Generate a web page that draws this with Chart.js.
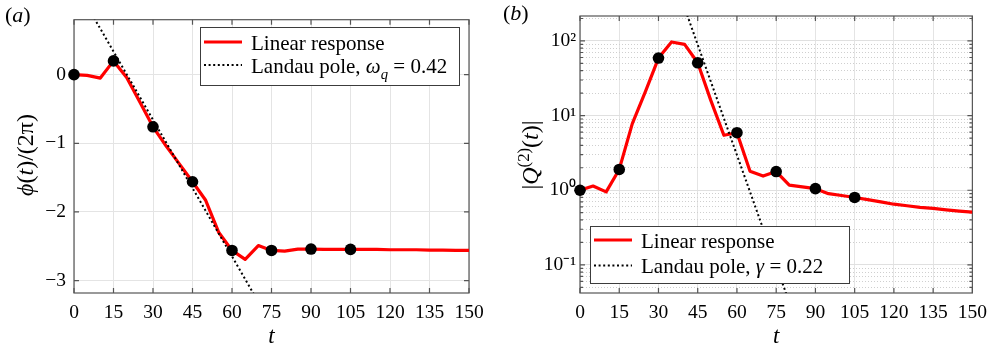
<!DOCTYPE html>
<html>
<head>
<meta charset="utf-8">
<script src="https://cdn.jsdelivr.net/npm/chart.js@4.4.1/dist/chart.umd.min.js"></script>
<style>
  body { margin: 0; background: #fff; }
  .panel { position: absolute; top: 0; height: 351px; }
  #pa { left: 0; width: 495px; }
  #pb { left: 495px; width: 500px; }
</style>
</head>
<body>
<div class="panel" id="pa"><canvas id="chartA"></canvas></div>
<div class="panel" id="pb"><canvas id="chartB"></canvas></div>
<script>
// time samples of the linear response
const tValues = [0, 5, 10, 15, 20, 25, 30, 35, 40, 45, 50, 55, 60, 65, 70, 75, 80, 85, 90, 95,
                 100, 105, 110, 115, 120, 125, 130, 135, 140, 145, 150];
// phase / (2 pi), panel (a)
const phaseValues = [0, -0.01, -0.05, 0.2, -0.04, -0.4, -0.76, -1.04, -1.3, -1.56, -1.83, -2.3, -2.56,
                     -2.69, -2.49, -2.56, -2.57, -2.54, -2.54, -2.545, -2.545, -2.545, -2.545, -2.545,
                     -2.55, -2.55, -2.55, -2.555, -2.555, -2.56, -2.56];
// |Q^(2)(t)|, panel (b)
const ampValues = [1.0, 1.14, 0.95, 1.9, 7.8, 21, 59, 97, 90, 51, 16, 5.45, 5.9, 1.8, 1.55, 1.78,
                   1.17, 1.11, 1.05, 0.9, 0.85, 0.8, 0.75, 0.7, 0.65, 0.62, 0.59, 0.57, 0.545, 0.525, 0.51];
// black markers
const markerTimes = [0, 15, 30, 45, 60, 75, 90, 105];
// Landau pole fits (end points)
const landauTimesA = [5, 70];
const landauPhase = [1.0, -3.31];
const landauTimesB = [38, 82];
const landauAmp = [437, 0.02];

const xTicks = [0, 15, 30, 45, 60, 75, 90, 105, 120, 135, 150];
const phaseTicks = [-3, -2, -1, 0];
const ampTicks = [0.1, 1, 10, 100];
const ampTickLabels = ['10\u207B\u00B9', '10\u2070', '10\u00B9', '10\u00B2'];
const ampMinorTicks = [0.05, 0.06, 0.07, 0.08, 0.09, 0.2, 0.3, 0.4, 0.5, 0.6, 0.7, 0.8, 0.9,
                       2, 3, 4, 5, 6, 7, 8, 9, 20, 30, 40, 50, 60, 70, 80, 90, 200];

const SERIF = '"Liberation Serif", serif';
const FRAME = '#555';

function pts(xs, ys) {
    return xs.map((x, i) => ({ x: x, y: ys[i] }));
}
function markers(ys) {
    return markerTimes.map(t => ({ x: t, y: ys[tValues.indexOf(t)] }));
}

// draw text made of pieces: [text, style], style: '', 'i', 'sub', 'isub', 'sup'
function drawRich(ctx, parts, x, y, size, align) {
    const fontFor = st => {
        const small = st.includes('sub') || st.includes('sup');
        const it = st === 'i' || st === 'isub';
        return (it ? 'italic ' : '') + (small ? size * 0.7 : size) + 'px ' + SERIF;
    };
    let w = 0;
    parts.forEach(([txt, st]) => { ctx.font = fontFor(st); w += ctx.measureText(txt).width; });
    let cx = align === 'center' ? x - w / 2 : x;
    ctx.textAlign = 'left';
    ctx.textBaseline = 'alphabetic';
    ctx.fillStyle = '#000';
    parts.forEach(([txt, st]) => {
        ctx.font = fontFor(st);
        let dy = 0;
        if (st.includes('sub')) dy = size * 0.3;
        if (st.includes('sup')) dy = -size * 0.38;
        ctx.fillText(txt, cx, y + dy);
        cx += ctx.measureText(txt).width;
    });
}

// box around the plot with inward tick marks
const framePlugin = {
    id: 'frame',
    beforeDatasetsDraw(chart) {
        const { ctx, chartArea: a } = chart;
        ctx.save();
        ctx.strokeStyle = FRAME;
        ctx.lineWidth = 1.2;
        ctx.strokeRect(a.left, a.top, a.right - a.left, a.bottom - a.top);
        ctx.beginPath();
        chart.scales.x.ticks.forEach(tk => {
            const px = chart.scales.x.getPixelForValue(tk.value);
            ctx.moveTo(px, a.bottom); ctx.lineTo(px, a.bottom - 5);
            ctx.moveTo(px, a.top); ctx.lineTo(px, a.top + 5);
        });
        const mark = (scale, len) => scale.ticks.forEach(tk => {
            const py = scale.getPixelForValue(tk.value);
            ctx.moveTo(a.left, py); ctx.lineTo(a.left + len, py);
            ctx.moveTo(a.right, py); ctx.lineTo(a.right - len, py);
        });
        mark(chart.scales.y, 5);
        if (chart.scales.yMinor) mark(chart.scales.yMinor, 3);
        ctx.stroke();
        ctx.restore();
    }
};

// legend box, panel tag and y-axis label
const decorPlugin = {
    id: 'decor',
    afterDraw(chart, args, opts) {
        const ctx = chart.ctx;
        ctx.save();
        const lg = opts.legend;
        ctx.fillStyle = '#fff';
        ctx.fillRect(lg.x, lg.y, lg.w, lg.h);
        ctx.strokeStyle = '#3c3c3c';
        ctx.lineWidth = 1;
        ctx.strokeRect(lg.x + 0.5, lg.y + 0.5, lg.w, lg.h);
        const ds = chart.data.datasets;
        [ds[2], ds[1]].forEach((d, i) => {
            const base = lg.y + lg.rows[i];
            ctx.beginPath();
            ctx.strokeStyle = d.borderColor;
            ctx.lineWidth = d.borderWidth;
            ctx.setLineDash(d.borderDash || []);
            ctx.moveTo(lg.x + 4, base - 7.5);
            ctx.lineTo(lg.x + 42, base - 7.5);
            ctx.stroke();
            ctx.setLineDash([]);
            drawRich(ctx, lg.labels[i], lg.x + 51, base, 21, 'left');
        });
        drawRich(ctx, opts.tag.parts, opts.tag.x, opts.tag.y, 22, 'left');
        ctx.translate(opts.ylabel.x, opts.ylabel.y);
        ctx.rotate(-Math.PI / 2);
        drawRich(ctx, opts.ylabel.parts, 0, 8, 24, 'center');
        ctx.restore();
    }
};

Chart.defaults.font.family = SERIF;
Chart.defaults.color = '#000';
Chart.register(framePlugin, decorPlugin);

function xScale() {
    return {
        type: 'linear', min: 0, max: 150,
        afterBuildTicks: s => { s.ticks = xTicks.map(v => ({ value: v })); },
        afterFit: s => { s.height = 58; },
        grid: { color: '#e4e4e4', drawTicks: false },
        border: { display: false },
        ticks: { font: { size: 19.5 }, padding: 8, maxRotation: 0, autoSkip: false },
        title: { display: true, text: 't', font: { size: 23, style: 'italic' }, padding: 0 }
    };
}

function datasets(lineData, fitData, markData) {
    return [
        { label: 'markers', data: markData, showLine: false, pointRadius: 5.8, pointHoverRadius: 5.8,
          backgroundColor: '#000', borderColor: '#000', borderWidth: 0, clip: false, order: 0 },
        { label: 'Landau pole', data: fitData, borderColor: '#000', borderWidth: 2, borderDash: [2, 2.6],
          pointRadius: 0, fill: false, order: 1 },
        { label: 'Linear response', data: lineData, borderColor: '#ff0000', borderWidth: 3.2,
          pointRadius: 0, fill: false, borderJoinStyle: 'round', order: 2 }
    ];
}

const commonOpts = {
    responsive: true,
    maintainAspectRatio: false,
    animation: false,
    events: []
};

new Chart(document.getElementById('chartA'), {
    type: 'line',
    data: { datasets: datasets(pts(tValues, phaseValues), pts(landauTimesA, landauPhase), markers(phaseValues)) },
    options: {
        ...commonOpts,
        layout: { padding: { left: 0, right: 26, top: 17, bottom: 0 } },
        scales: {
            x: xScale(),
            y: {
                type: 'linear', min: -3.18, max: 0.8,
                afterBuildTicks: s => { s.ticks = phaseTicks.map(v => ({ value: v })); },
                afterFit: s => { s.width = 74; },
                grid: { color: '#e4e4e4', drawTicks: false },
                border: { display: false },
                ticks: { font: { size: 19.5 }, padding: 8, callback: v => String(v).replace('-', '\u2212') }
            }
        },
        plugins: {
            legend: { display: false },
            tooltip: { enabled: false },
            decor: {
                legend: { x: 200, y: 27, w: 259, h: 58, rows: [22.5, 45.5],
                          labels: [[['Linear response', '']],
                                   [['Landau pole, ', ''], ['\u03C9', 'i'], ['q', 'isub'], [' = 0.42', '']]] },
                tag: { x: 5, y: 22, parts: [['(', ''], ['a', 'i'], [')', '']] },
                ylabel: { x: 25, y: 155, parts: [['\u03D5', 'i'], ['(', ''], ['t', 'i'], [')/(2\u03C0)', '']] }
            }
        }
    }
});

new Chart(document.getElementById('chartB'), {
    type: 'line',
    data: { datasets: datasets(pts(tValues, ampValues), pts(landauTimesB, landauAmp), markers(ampValues)) },
    options: {
        ...commonOpts,
        layout: { padding: { left: 0, right: 20, top: 16, bottom: 0 } },
        scales: {
            x: xScale(),
            y: {
                type: 'logarithmic', min: 0.042, max: 216,
                afterBuildTicks: s => { s.ticks = ampTicks.map(v => ({ value: v })); },
                afterFit: s => { s.width = 85; },
                grid: { color: '#e0e0e0', drawTicks: false },
                border: { display: false },
                ticks: { font: { size: 19.5 }, padding: 4, callback: v => ampTickLabels[ampTicks.indexOf(v)] }
            },
            yMinor: {
                type: 'logarithmic', position: 'left', min: 0.042, max: 216,
                afterBuildTicks: s => { s.ticks = ampMinorTicks.map(v => ({ value: v })); },
                afterFit: s => { s.width = 0; },
                grid: { color: '#cfcfcf', drawTicks: false },
                border: { display: false, dash: [1, 2] },
                ticks: { display: false }
            }
        },
        plugins: {
            legend: { display: false },
            tooltip: { enabled: false },
            decor: {
                legend: { x: 95, y: 226, w: 259, h: 57, rows: [21.5, 47],
                          labels: [[['Linear response', '']],
                                   [['Landau pole, ', ''], ['\u03B3', 'i'], [' = 0.22', '']]] },
                tag: { x: 8, y: 20, parts: [['(', ''], ['b', 'i'], [')', '']] },
                ylabel: { x: 35, y: 155, parts: [['|', ''], ['Q', 'i'], ['(2)', 'sup'], ['(', ''], ['t', 'i'], [')|', '']] }
            }
        }
    }
});
</script>
</body>
</html>
